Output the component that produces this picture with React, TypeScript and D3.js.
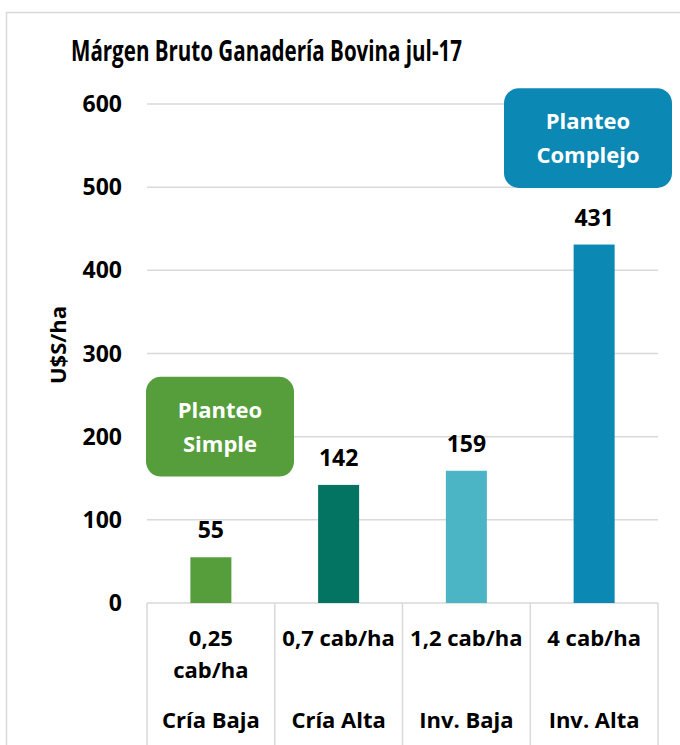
import React from "react";
import * as d3 from "d3";

const categories = ["Cría Baja", "Cría Alta", "Inv. Baja", "Inv. Alta"];
const densities = [["0,25", "cab/ha"], ["0,7 cab/ha"], ["1,2 cab/ha"], ["4 cab/ha"]];
const values = [55, 142, 159, 431];
const barColors = ["#559E3B", "#037362", "#4BB5C5", "#0B88B3"];
const yTicks = [0, 100, 200, 300, 400, 500, 600];
const title = "Márgen Bruto Ganadería Bovina jul-17";
const yLabel = "U$S/ha";
const boxes = [
  { lines: ["Planteo", "Simple"], color: "#559E3B", x0: 146, x1: 294, v0: 152, v1: 272 },
  { lines: ["Planteo", "Complejo"], color: "#0B88B3", x0: 504, x1: 672, v0: 499, v1: 619 },
];

const FONT = "'Open Sans', sans-serif";

export default function App() {
  const W = 680, H = 745;
  const left = 147, right = 658, top = 104, bottom = 603;
  const x = d3.scaleBand().domain(categories).range([left, right]).paddingInner(0).paddingOuter(0);
  const y = d3.scaleLinear().domain([0, 600]).range([bottom, top]);
  const barW = 41;
  const grid = "#D9D9D9";
  return (
    <svg width={W} height={H} style={{ position: "absolute", left: 0, top: 0, background: "#fff" }} fontFamily={FONT}>
      <rect x={0} y={0} width={W} height={H} fill="#fff" />
      <rect x={6.5} y={12.5} width={720} height={800} fill="none" stroke={grid} strokeWidth={1.5} />
      <text x={266.5} y={61} textAnchor="middle" fontSize={28} fontWeight={700} fill="#000" textLength={391} lengthAdjust="spacingAndGlyphs">{title}</text>
      {yTicks.map((t) => (
        <g key={t}>
          {t > 0 && <line x1={left} x2={right} y1={y(t)} y2={y(t)} stroke={grid} strokeWidth={1.5} />}
          <text x={122} y={y(t) + 8} textAnchor="end" fontSize={23} fontWeight={700} fill="#000">{t}</text>
        </g>
      ))}
      <text transform={`translate(66,345) rotate(-90)`} textAnchor="middle" fontSize={22} fontWeight={700} fill="#000">{yLabel}</text>
      <line x1={left} x2={right} y1={bottom} y2={bottom} stroke={grid} strokeWidth={1.5} />
      {[...categories.map((c) => x(c)!), right].map((xx, i) => (
        <line key={i} x1={xx} x2={xx} y1={bottom} y2={H} stroke={grid} strokeWidth={1.5} />
      ))}
      {categories.map((c, i) => {
        const cx = x(c)! + x.bandwidth() / 2;
        return (
          <g key={c}>
            <rect x={cx - barW / 2} y={y(values[i])} width={barW} height={bottom - y(values[i])} fill={barColors[i]} />
            <text x={cx} y={y(values[i]) - 19} textAnchor="middle" fontSize={23} fontWeight={700} fill="#000">{values[i]}</text>
            {densities[i].map((l, j) => (
              <text key={j} x={cx} y={646 + j * 32} textAnchor="middle" fontSize={22} fontWeight={700} fill="#000">{l}</text>
            ))}
            <text x={cx} y={728} textAnchor="middle" fontSize={22} fontWeight={700} fill="#000">{c}</text>
          </g>
        );
      })}
      {boxes.map((b, i) => (
        <g key={i}>
          <rect x={b.x0} y={y(b.v1)} width={b.x1 - b.x0} height={y(b.v0) - y(b.v1)} rx={15} fill={b.color} />
          {b.lines.map((l, j) => (
            <text key={j} x={(b.x0 + b.x1) / 2} y={(y(b.v0) + y(b.v1)) / 2 - 9 + j * 34} textAnchor="middle" fontSize={22} fontWeight={700} fill="#fff">{l}</text>
          ))}
        </g>
      ))}
    </svg>
  );
}
